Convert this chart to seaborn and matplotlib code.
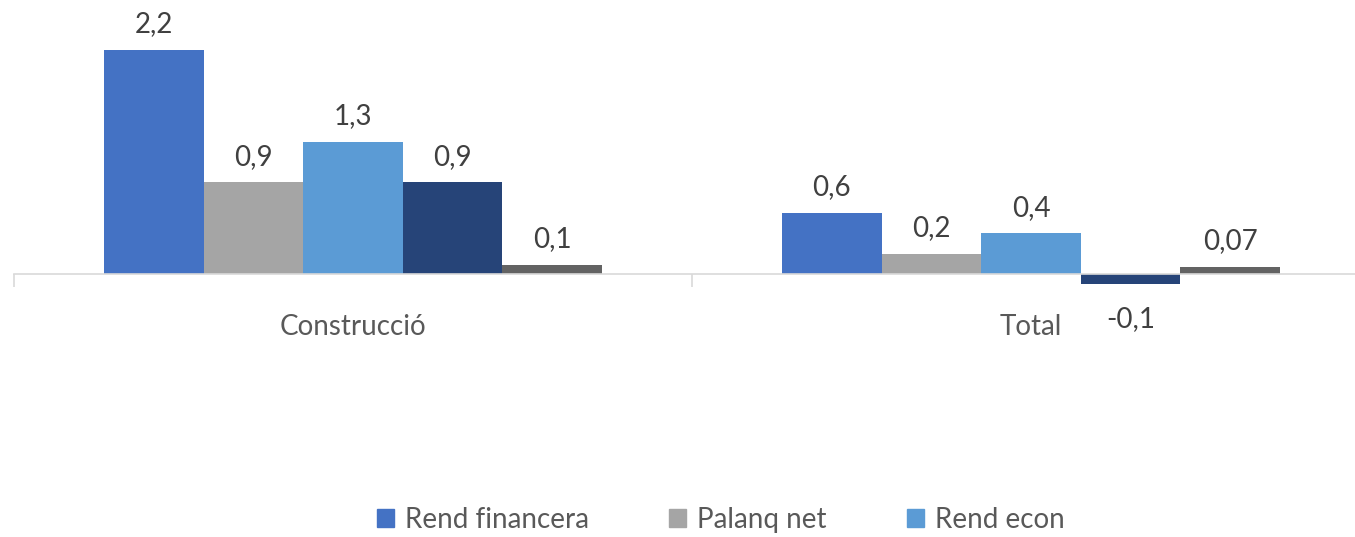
import pandas as pd
import matplotlib.pyplot as plt
import seaborn as sns

categories = ["Construcció", "Total"]
series = ["Rend financera", "Palanq net", "Rend econ", "Sèrie 4", "Sèrie 5"]
legend_series = ["Rend financera", "Palanq net", "Rend econ"]
colors = ["#4472C4", "#A5A5A5", "#5B9BD5", "#264478", "#636363"]

construccio_values = [2.2, 0.9, 1.3, 0.9, 0.09]
total_values = [0.6, 0.2, 0.4, -0.1, 0.07]
construccio_labels = ["2,2", "0,9", "1,3", "0,9", "0,1"]
total_labels = ["0,6", "0,2", "0,4", "-0,1", "0,07"]


def main():
    rows = []
    for cat, vals, labs in [
        (categories[0], construccio_values, construccio_labels),
        (categories[1], total_values, total_labels),
    ]:
        for s, v, l in zip(series, vals, labs):
            rows.append({"categoria": cat, "serie": s, "valor": v, "etiqueta": l})
    df = pd.DataFrame(rows)

    sns.set_style("white")
    plt.rcParams["font.family"] = ["Lato", "DejaVu Sans"]

    fig = plt.figure(figsize=(13.55, 5.37), dpi=100)
    ax = fig.add_axes([14 / 1355, 237 / 537, 1356 / 1355, 300 / 537])

    sns.barplot(
        data=df,
        x="categoria",
        y="valor",
        hue="serie",
        order=categories,
        hue_order=series,
        palette=colors,
        saturation=1,
        width=0.735,
        gap=0,
        linewidth=0,
        errorbar=None,
        legend=False,
        ax=ax,
    )

    ax.set_xlim(-0.5, 1.5)
    ax.set_ylim(-26 / 101.8, 274 / 101.8)

    # data labels
    for container, s in zip(ax.containers, series):
        sub = df[df["serie"] == s].set_index("categoria").loc[categories]
        for bar, lab, val in zip(container, sub["etiqueta"], sub["valor"]):
            x = bar.get_x() + bar.get_width() / 2
            if val >= 0:
                ax.annotate(lab, (x, val), xytext=(0, 9), textcoords="offset points",
                            ha="center", va="bottom", fontsize=20, color="#404040")
            else:
                ax.annotate(lab, (x, val), xytext=(0, -16), textcoords="offset points",
                            ha="center", va="top", fontsize=20, color="#404040")

    # axis styling
    for side in ["left", "right", "top"]:
        ax.spines[side].set_visible(False)
    ax.spines["bottom"].set_position(("data", 0))
    ax.spines["bottom"].set_color("#D9D9D9")
    ax.spines["bottom"].set_linewidth(1.2)
    ax.set_yticks([])
    ax.set_xlabel("")
    ax.set_ylabel("")
    ax.set_xticks([-0.5, 0.5, 1.5], minor=True)
    ax.tick_params(axis="x", which="minor", bottom=True, length=9, width=1.2,
                   color="#D9D9D9")
    ax.tick_params(axis="x", which="major", length=0, pad=29, labelsize=20,
                   labelcolor="#595959")

    handles = [plt.Rectangle((0, 0), 1, 1, color=c) for c in colors[:3]]
    fig.legend(
        handles, legend_series,
        loc="center", bbox_to_anchor=(721 / 1355, 17 / 537), ncol=3,
        frameon=False, fontsize=20, labelcolor="#595959",
        handlelength=0.6, handleheight=0.6, handletextpad=0.4, columnspacing=2.9,
    )

    fig.savefig("out.png", dpi=100)


if __name__ == "__main__":
    main()
